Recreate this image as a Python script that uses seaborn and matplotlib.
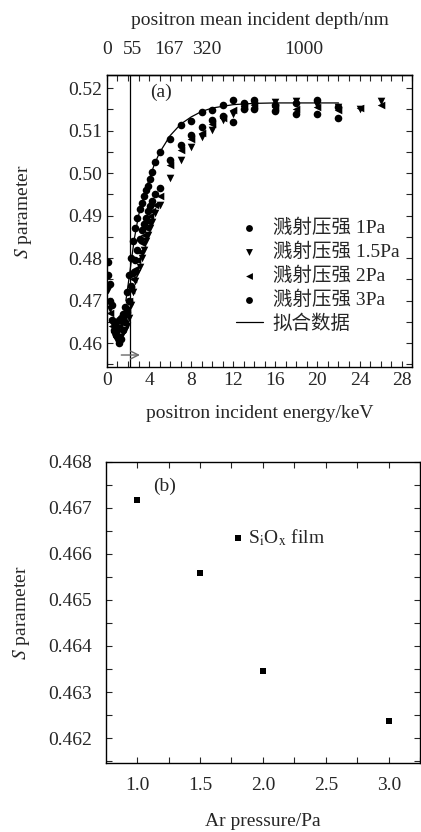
import numpy as np
import pandas as pd
import matplotlib
matplotlib.use('Agg')
import matplotlib.pyplot as plt
import seaborn as sns
from matplotlib.ticker import MultipleLocator, FixedLocator, FormatStrFormatter

# --- data ---
e_low = [0.1, 0.3, 0.5, 0.7, 0.9, 1.1, 1.3, 1.5, 1.7, 1.9, 2.1, 2.3, 2.5, 2.7,
         2.9, 3.1, 3.3, 3.5, 3.7, 3.9, 4.1, 4.3, 4.6, 5.0, 6, 7, 8, 9, 10, 11,
         12, 13, 14, 16, 18, 20, 22]
e_long = e_low + [24, 26]

s_1pa = [0.4760, 0.4700, 0.4655, 0.4630, 0.4640, 0.4655, 0.4660, 0.4668, 0.4685,
         0.4720, 0.4760, 0.4800, 0.4840, 0.4870, 0.4895, 0.4915, 0.4930, 0.4945,
         0.4960, 0.4970, 0.4985, 0.5002, 0.5026, 0.5049, 0.5080, 0.5113, 0.5122,
         0.5144, 0.5148, 0.5160, 0.5172, 0.5165, 0.5172, 0.5160, 0.5165, 0.5172,
         0.5155]
s_15pa = [0.4725, 0.4680, 0.4650, 0.4620, 0.4610, 0.4605, 0.4615, 0.4625, 0.4630,
          0.4640, 0.4660, 0.4690, 0.4720, 0.4745, 0.4765, 0.4780, 0.4800, 0.4820,
          0.4840, 0.4855, 0.4870, 0.4885, 0.4905, 0.4925, 0.4988, 0.5031, 0.5061,
          0.5085, 0.5101, 0.5125, 0.5140, 0.5150, 0.5158, 0.5168, 0.5170, 0.5160,
          0.5155, 0.5150, 0.5170]
s_2pa = [0.4700, 0.4670, 0.4640, 0.4625, 0.4630, 0.4640, 0.4650, 0.4660, 0.4665,
         0.4680, 0.4700, 0.4725, 0.4750, 0.4775, 0.4795, 0.4815, 0.4835, 0.4855,
         0.4870, 0.4885, 0.4898, 0.4910, 0.4925, 0.4945, 0.5019, 0.5054, 0.5080,
         0.5095, 0.5115, 0.5130, 0.5148, 0.5158, 0.5160, 0.5155, 0.5150, 0.5155,
         0.5148, 0.5152, 0.5160]
s_3pa = [0.4790, 0.4740, 0.4690, 0.4650, 0.4620, 0.4600, 0.4610, 0.4630, 0.4650,
         0.4670, 0.4700, 0.4735, 0.4765, 0.4795, 0.4820, 0.4845, 0.4865, 0.4880,
         0.4895, 0.4910, 0.4922, 0.4935, 0.4950, 0.4965, 0.5030, 0.5065, 0.5090,
         0.5108, 0.5125, 0.5135, 0.5120, 0.5150, 0.5150, 0.5145, 0.5140, 0.5140,
         0.5130]

fit_e = [1.8, 2.0, 2.3, 2.6, 3.0, 3.5, 4.0, 4.5, 5.0, 6, 7, 8, 9, 10, 12, 14,
         16, 18, 20, 22]
fit_s = [0.4700, 0.4735, 0.4790, 0.4845, 0.4900, 0.4945, 0.4985, 0.5020, 0.5048,
         0.5088, 0.5115, 0.5132, 0.5145, 0.5153, 0.5161, 0.5164, 0.5165, 0.5165,
         0.5165, 0.5165]

depth_labels = ['0', '55', '167', '320', '1000']
depth_pos = [0.05, 2.4, 5.9, 9.5, 18.7]

pressure = [1.0, 1.5, 2.0, 3.0]
s_film = [0.46717, 0.46559, 0.46345, 0.46236]

series = [('溅射压强 1Pa', e_low, s_1pa, 'o'),
          ('溅射压强 1.5Pa', e_long, s_15pa, 'v'),
          ('溅射压强 2Pa', e_long, s_2pa, '<'),
          ('溅射压强 3Pa', e_low, s_3pa, 'o')]

sns.set_style('ticks')
plt.rcParams['font.family'] = ['Liberation Serif', 'Noto Sans CJK SC']
plt.rcParams['mathtext.fontset'] = 'stix'
plt.rcParams['font.size'] = 14
plt.rcParams['axes.linewidth'] = 1.0

fig = plt.figure(figsize=(4.21, 8.32), dpi=100)
ax1 = fig.add_axes([0.254, 0.559, 0.725, 0.351])
ax2 = fig.add_axes([0.252, 0.083, 0.746, 0.362])

# --- (a) ---
for label, e, s, m in series:
    sns.scatterplot(x=e, y=s, ax=ax1, marker=m, color='black', s=30,
                    linewidth=0, label=label)
sns.lineplot(x=fit_e, y=fit_s, ax=ax1, color='black', lw=0.9, label='拟合数据')

ax1.axvline(2.15, color='black', lw=0.9)
ax1.annotate('', xy=(3.4, 0.4572), xytext=(1.1, 0.4572),
             arrowprops=dict(arrowstyle='->', color='dimgray', lw=1.0))

ax1.set_xlim(0, 29)
ax1.set_ylim(0.4544, 0.5231)
ax1.xaxis.set_major_locator(MultipleLocator(4))
ax1.xaxis.set_minor_locator(MultipleLocator(1))
ax1.yaxis.set_major_locator(MultipleLocator(0.01))
ax1.yaxis.set_minor_locator(MultipleLocator(0.005))
ax1.yaxis.set_major_formatter(FormatStrFormatter('%.2f'))
ax1.tick_params(which='both', direction='in', top=False, right=True,
                length=4, width=0.8, labelsize=14)
ax1.set_xlabel('positron incident energy/keV', fontsize=14, labelpad=12)
ax1.set_ylabel(r'$S$ parameter', fontsize=14)
ax1.yaxis.set_label_coords(-0.24, 0.53)
ax1.text(0.14, 0.94, '(a)', transform=ax1.transAxes, fontsize=14,
         ha='left', va='center')

top = ax1.secondary_xaxis('top')
top.xaxis.set_major_locator(FixedLocator(depth_pos))
top.set_xticklabels(depth_labels)
top.xaxis.set_minor_locator(MultipleLocator(1))
top.tick_params(which='major', length=0, labelsize=14, pad=12)
top.tick_params(which='minor', direction='in', length=4, width=0.8)
top.set_xlabel('positron mean incident depth/nm', fontsize=14, labelpad=12)

leg = ax1.legend(loc='upper left', bbox_to_anchor=(0.39, 0.54), frameon=False,
                 fontsize=14, handlelength=1.4, handletextpad=0.5,
                 labelspacing=0.28, borderpad=0, markerscale=0.9)

# --- (b) ---
sns.scatterplot(x=pressure, y=s_film, ax=ax2, marker='s', color='black', s=24,
                linewidth=0, label=r'S$_\mathrm{i}$O$_\mathrm{x}$ film')
ax2.set_xlim(0.754, 3.25)
ax2.set_ylim(0.46146, 0.468)
ax2.xaxis.set_major_locator(MultipleLocator(0.5))
ax2.xaxis.set_minor_locator(MultipleLocator(0.25))
ax2.yaxis.set_major_locator(MultipleLocator(0.001))
ax2.yaxis.set_minor_locator(MultipleLocator(0.0005))
ax2.yaxis.set_major_formatter(FormatStrFormatter('%.3f'))
ax2.xaxis.set_major_formatter(FormatStrFormatter('%.1f'))
ax2.tick_params(which='both', direction='in', top=True, right=True,
                length=4, width=0.8, labelsize=14, pad=10)
ax2.set_xlabel('Ar pressure/Pa', fontsize=14, labelpad=14)
ax2.set_ylabel(r'$S$ parameter', fontsize=14)
ax2.yaxis.set_label_coords(-0.235, 0.5)
ax2.text(0.15, 0.92, '(b)', transform=ax2.transAxes, fontsize=14,
         ha='left', va='center')
ax2.legend(loc='upper left', bbox_to_anchor=(0.37, 0.815), frameon=False,
           fontsize=14, handlelength=0.6, handletextpad=0.2, borderpad=0)

for ax in (ax1, ax2):
    for sp in ax.spines.values():
        sp.set_visible(True)
        sp.set_color('black')

fig.savefig('out.png', dpi=100)
